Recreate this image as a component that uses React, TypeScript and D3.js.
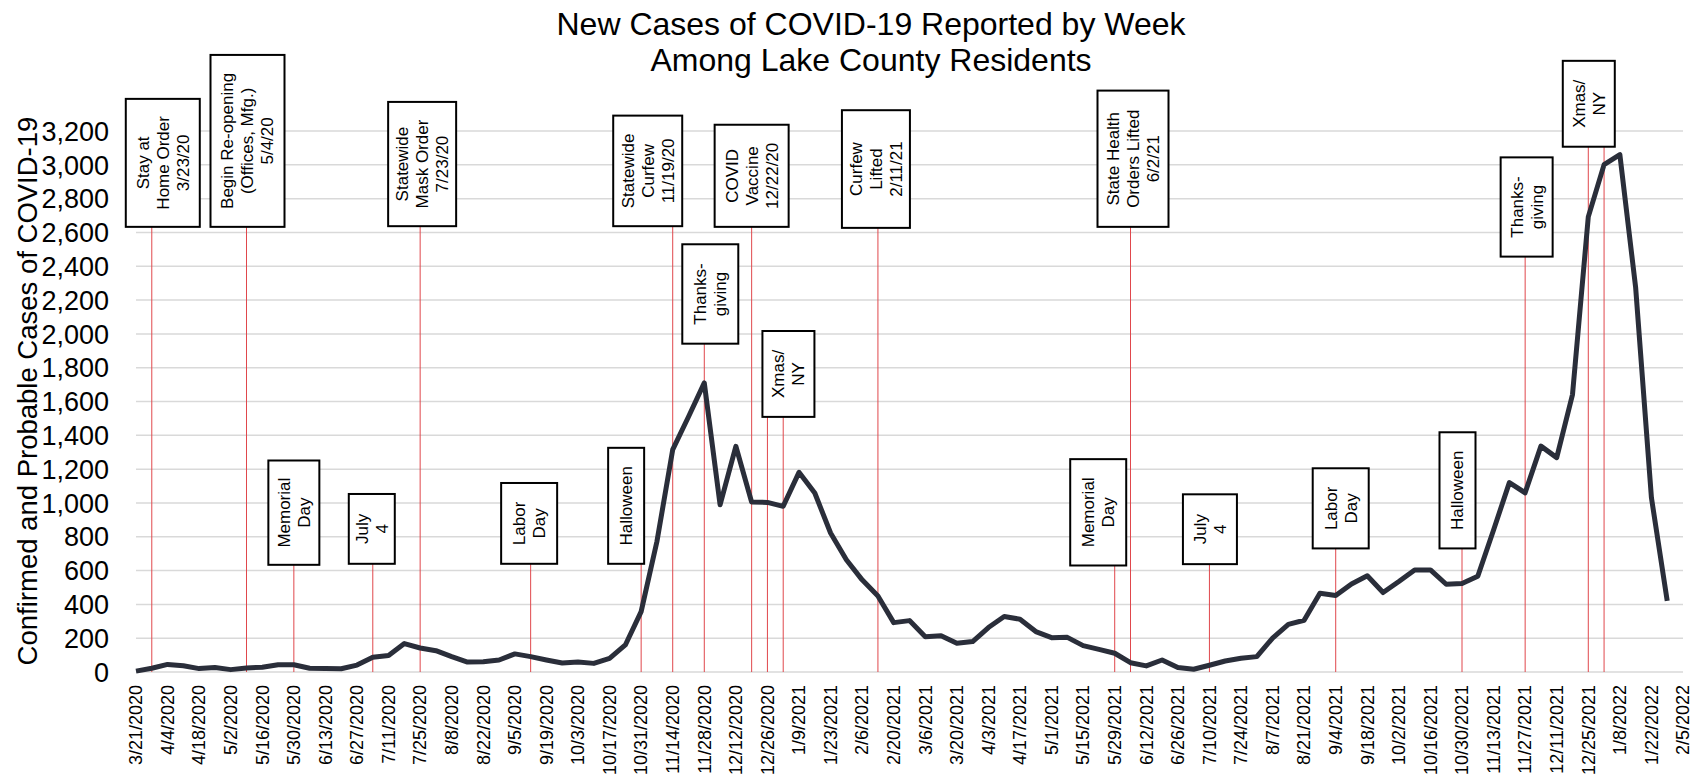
import * as d3 from "d3";

const width = 1702;
const height = 774;
const plotLeft = 136;
const plotRight = 1683;
const plotTop = 131;
const plotBottom = 672;

const titleLines = ["New Cases of COVID-19 Reported by Week", "Among Lake County Residents"];
const yLabel = "Confirmed and Probable Cases of COVID-19";

const firstWeek = "3/21/2020";
const lastTick = "2/5/2022";

// weekly new cases, week ending 3/21/2020 onward
const cases = [
  5, 22, 45, 37, 20, 26, 14, 24, 28, 43,
  43, 22, 20, 19, 41, 87, 97, 168, 142, 126,
  91, 59, 61, 71, 107, 91, 71, 53, 59, 51,
  81, 160, 357, 772, 1315, 1510, 1710, 989, 1335, 1005,
  1003, 980, 1181, 1059, 822, 664, 545, 450, 292, 304,
  209, 215, 170, 180, 263, 328, 312, 239, 203, 205,
  156, 134, 111, 55, 36, 71, 26, 16, 40, 65,
  81, 91, 201, 282, 306, 466, 452, 521, 569, 470,
  535, 604, 604, 519, 523, 566, 840, 1120, 1060, 1336,
  1268, 1641, 2692, 3001, 3060, 2274, 1031, 420,
];

const tickLabels = [
  "3/21/2020", "4/4/2020", "4/18/2020", "5/2/2020", "5/16/2020", "5/30/2020",
  "6/13/2020", "6/27/2020", "7/11/2020", "7/25/2020", "8/8/2020", "8/22/2020",
  "9/5/2020", "9/19/2020", "10/3/2020", "10/17/2020", "10/31/2020", "11/14/2020",
  "11/28/2020", "12/12/2020", "12/26/2020", "1/9/2021", "1/23/2021", "2/6/2021",
  "2/20/2021", "3/6/2021", "3/20/2021", "4/3/2021", "4/17/2021", "5/1/2021",
  "5/15/2021", "5/29/2021", "6/12/2021", "6/26/2021", "7/10/2021", "7/24/2021",
  "8/7/2021", "8/21/2021", "9/4/2021", "9/18/2021", "10/2/2021", "10/16/2021",
  "10/30/2021", "11/13/2021", "11/27/2021", "12/11/2021", "12/25/2021", "1/8/2022",
  "1/22/2022", "2/5/2022",
];

const yTicks = d3.range(0, 3201, 200);

// event notes: text lines and the week(s) they point at
const eventTexts = [
  ["Stay at", "Home Order", "3/23/20"],
  ["Begin Re-opening", "(Offices, Mfg.)", "5/4/20"],
  ["Memorial", "Day"],
  ["July", "4"],
  ["Statewide", "Mask Order", "7/23/20"],
  ["Labor", "Day"],
  ["Halloween"],
  ["Statewide", "Curfew", "11/19/20"],
  ["Thanks-", "giving"],
  ["COVID", "Vaccine", "12/22/20"],
  ["Xmas/", "NY"],
  ["Curfew", "Lifted", "2/11/21"],
  ["Memorial", "Day"],
  ["State Health", "Orders Lifted", "6/2/21"],
  ["July", "4"],
  ["Labor", "Day"],
  ["Halloween"],
  ["Thanks-", "giving"],
  ["Xmas/", "NY"],
];
const eventWeeks = [
  ["3/28/2020"], ["5/9/2020"], ["5/30/2020"], ["7/4/2020"], ["7/25/2020"],
  ["9/12/2020"], ["10/31/2020"], ["11/14/2020"], ["11/28/2020"], ["12/19/2020"],
  ["12/26/2020", "1/2/2021"], ["2/13/2021"], ["5/29/2021"], ["6/5/2021"],
  ["7/10/2021"], ["9/4/2021"], ["10/30/2021"], ["11/27/2021"],
  ["12/25/2021", "1/1/2022"],
];

// box placement: top/bottom on the case scale, width and shift in px
const boxLayout = [
  { top: 3390, bottom: 2633, w: 74, dx: 11 },
  { top: 3650, bottom: 2633, w: 74, dx: 1 },
  { top: 1251, bottom: 634, w: 51, dx: 0 },
  { top: 1053, bottom: 640, w: 46, dx: -1 },
  { top: 3372, bottom: 2637, w: 68, dx: 2 },
  { top: 1118, bottom: 640, w: 56, dx: -1.5 },
  { top: 1326, bottom: 640, w: 36, dx: -15 },
  { top: 3291, bottom: 2637, w: 69, dx: -25 },
  { top: 2530, bottom: 1942, w: 56, dx: 6 },
  { top: 3237, bottom: 2633, w: 74, dx: 0 },
  { top: 2017, bottom: 1509, w: 52, dx: 21 },
  { top: 3323, bottom: 2627, w: 68, dx: -2 },
  { top: 1259, bottom: 630, w: 56, dx: -16.5 },
  { top: 3439, bottom: 2633, w: 71, dx: 2.5 },
  { top: 1051, bottom: 638, w: 54, dx: 0.5 },
  { top: 1205, bottom: 731, w: 56, dx: 5 },
  { top: 1418, bottom: 731, w: 36, dx: -4.5 },
  { top: 3044, bottom: 2457, w: 52, dx: 1.5 },
  { top: 3615, bottom: 3107, w: 52, dx: 0.5 },
];

const parse = d3.utcParse("%m/%d/%Y");
const font = "'Liberation Sans', Arial, sans-serif";

const App = () => {
  const start = parse(firstWeek) as Date;
  const data = cases.map((v, i) => ({ date: d3.utcDay.offset(start, 7 * i), value: v }));

  const x = d3
    .scaleUtc()
    .domain([start, parse(lastTick) as Date])
    .range([plotLeft, plotRight]);

  const y = d3.scaleLinear().domain([0, 3200]).range([plotBottom, plotTop]);

  const line = d3
    .line<{ date: Date; value: number }>()
    .x((d) => x(d.date))
    .y((d) => y(d.value));

  return (
    <div style={{ position: "absolute", left: 0, top: 0 }}>
      <svg width={width} height={height} viewBox={`0 0 ${width} ${height}`} style={{ display: "block", background: "#fff" }}>
        {/* title */}
        {titleLines.map((t, i) => (
          <text key={t} x={871} y={35 + i * 36} textAnchor="middle" fontFamily={font} fontSize={32} fill="#000">
            {t}
          </text>
        ))}

        {/* grid */}
        {yTicks.map((t) => (
          <line key={t} x1={plotLeft} x2={plotRight} y1={y(t)} y2={y(t)} stroke="#d9d9d9" strokeWidth={1.5} />
        ))}

        {/* y tick labels */}
        {yTicks.map((t) => (
          <text key={t} x={109} y={y(t)} dy="0.36em" textAnchor="end" fontFamily={font} fontSize={27} fill="#000">
            {d3.format(",")(t)}
          </text>
        ))}

        <text
          transform={`translate(37, 391) rotate(-90)`}
          textAnchor="middle"
          fontFamily={font}
          fontSize={27.5}
          fill="#000"
        >
          {yLabel}
        </text>

        {/* x tick labels */}
        {tickLabels.map((t) => {
          const px = x(parse(t) as Date);
          return (
            <text
              key={t}
              transform={`translate(${px}, ${plotBottom + 13}) rotate(-90)`}
              dy="0.35em"
              textAnchor="end"
              fontFamily={font}
              fontSize={18}
              fill="#000"
            >
              {t}
            </text>
          );
        })}

        {/* event lines */}
        {eventWeeks.map((ws, i) =>
          ws.map((w) => {
            const px = x(parse(w) as Date);
            return (
              <line
                key={`${i}-${w}`}
                x1={px}
                x2={px}
                y1={y(boxLayout[i].bottom)}
                y2={plotBottom}
                stroke="#e0474c"
                strokeWidth={1}
              />
            );
          })
        )}

        {/* case line */}
        <path d={line(data) as string} fill="none" stroke="#2a2e3a" strokeWidth={5} strokeLinejoin="round" />

        {/* event boxes */}
        {eventTexts.map((lines, i) => {
          const b = boxLayout[i];
          const cx = x(parse(eventWeeks[i][0]) as Date) + b.dx;
          const y0 = y(b.top);
          const y1 = y(b.bottom);
          const cy = (y0 + y1) / 2;
          return (
            <g key={i}>
              <rect x={cx - b.w / 2} y={y0} width={b.w} height={y1 - y0} fill="#fff" stroke="#000" strokeWidth={2} />
              {lines.map((l, j) => (
                <text
                  key={j}
                  transform={`translate(${cx + (j - (lines.length - 1) / 2) * 20}, ${cy}) rotate(-90)`}
                  dy="0.35em"
                  textAnchor="middle"
                  fontFamily={font}
                  fontSize={17}
                  fill="#000"
                >
                  {l}
                </text>
              ))}
            </g>
          );
        })}
      </svg>
    </div>
  );
};

export default App;
